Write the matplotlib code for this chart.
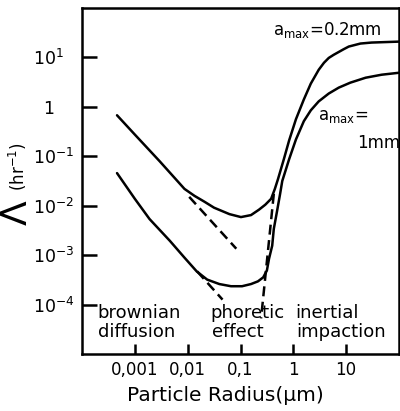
import numpy as np
import matplotlib
matplotlib.use("Agg")
import matplotlib.pyplot as plt
from matplotlib.ticker import FixedLocator, NullLocator

# curve for a_max = 0.2 mm (upper)
r_02 = [4.6e-4, 1.0e-3, 2.95e-3, 8.7e-3, 0.0135, 0.0209, 0.0316, 0.0617, 0.102,
        0.158, 0.224, 0.295, 0.380, 0.447, 0.513, 0.661, 0.832, 1.12, 1.58, 2.14,
        3.02, 3.8, 4.68, 5.8, 7.24, 8.9, 11.2, 18.6, 30.2, 100]
lam_02 = [0.676, 0.275, 0.0794, 0.0219, 0.0158, 0.0120, 0.00912, 0.00676, 0.00589,
          0.00646, 0.00832, 0.0105, 0.0138, 0.0219, 0.0347, 0.0871, 0.209, 0.562,
          1.41, 2.95, 5.62, 7.8, 9.77, 11.3, 12.9, 14.6, 16.6, 19.1, 20.0, 20.9]

# curve for a_max = 1 mm (lower)
r_1 = [4.6e-4, 1.0e-3, 1.9e-3, 4.6e-3, 8.7e-3, 0.0148, 0.0234, 0.0398, 0.0661, 0.107,
       0.158, 0.214, 0.269, 0.316, 0.347, 0.398, 0.427, 0.490, 0.562, 0.617, 0.832,
       1.12, 1.58, 2.14, 3.02, 4.68, 7.24, 12.0, 23.4, 46.8, 100]
lam_1 = [0.0457, 0.0138, 0.00537, 0.00195, 8.9e-4, 4.7e-4, 3.2e-4, 2.6e-4, 2.35e-4,
         2.35e-4, 2.6e-4, 2.95e-4, 3.55e-4, 4.9e-4, 8.5e-4, 1.55e-3, 3.4e-3, 7.6e-3,
         0.0174, 0.0316, 0.0871, 0.219, 0.513, 0.851, 1.29, 1.86, 2.45, 3.09, 3.89,
         4.47, 4.90]

# dashed asymptotes
dash_hi_r = [0.0107, 0.0832]
dash_hi_lam = [0.0151, 0.00135]
dash_lo_r = [0.0151, 0.0457]
dash_lo_lam = [4.7e-4, 1.26e-4]
dash_ph_r = [0.427, 0.245]
dash_ph_lam = [0.0174, 5.25e-5]

xticks = [1e-3, 1e-2, 1e-1, 1, 10]
xticklabels = ["0,001", "0,01", "0,1", "1", "10"]
yticks = [1e1, 1, 1e-1, 1e-2, 1e-3, 1e-4]
yticklabels = [r"$10^{1}$", "\u20071", r"$10^{-1}$", r"$10^{-2}$",
               r"$10^{-3}$", r"$10^{-4}$"]

lw = 1.8
fig = plt.figure(figsize=(4, 4.11), dpi=100)
ax = fig.add_axes([0.205, 0.1387, 0.7925, 0.8418])
ax.set_xscale("log")
ax.set_yscale("log")
ax.set_xlim(1e-4, 100)
ax.set_ylim(1e-5, 100)

ax.plot(r_02, lam_02, color="black", lw=lw, solid_capstyle="round", solid_joinstyle="round")
ax.plot(r_1, lam_1, color="black", lw=lw, solid_capstyle="round", solid_joinstyle="round")
for xs, ys in [(dash_hi_r, dash_hi_lam), (dash_lo_r, dash_lo_lam), (dash_ph_r, dash_ph_lam)]:
    ax.plot(xs, ys, color="black", lw=lw, linestyle=(0, (4, 2.2)))

for s in ax.spines.values():
    s.set_linewidth(lw)

ax.xaxis.set_major_locator(FixedLocator(xticks))
ax.xaxis.set_minor_locator(NullLocator())
ax.yaxis.set_major_locator(FixedLocator(yticks))
ax.yaxis.set_minor_locator(NullLocator())
ax.set_xticklabels(xticklabels)
ax.set_yticklabels(yticklabels)
ax.tick_params(axis="x", direction="in", length=7, width=lw, labelsize=12, pad=5)
ax.tick_params(axis="y", direction="in", length=10.5, width=lw, labelsize=12.5, pad=35)
for lab in ax.get_yticklabels():
    lab.set_horizontalalignment("left")

# regime labels
fs = 13
ax.text(0.050, 0.104, "brownian", transform=ax.transAxes, fontsize=fs, va="baseline")
ax.text(0.050, 0.049, "diffusion", transform=ax.transAxes, fontsize=fs, va="baseline")
ax.text(0.404, 0.104, "phoretic", transform=ax.transAxes, fontsize=fs, va="baseline")
ax.text(0.410, 0.049, "effect", transform=ax.transAxes, fontsize=fs, va="baseline")
ax.text(0.672, 0.104, "inertial", transform=ax.transAxes, fontsize=fs, va="baseline")
ax.text(0.675, 0.049, "impaction", transform=ax.transAxes, fontsize=fs, va="baseline")

# curve labels
ax.text(0.603, 0.922, r"a$_{\rm max}$=0.2mm", transform=ax.transAxes, fontsize=12, va="baseline")
ax.text(0.744, 0.676, r"a$_{\rm max}$=", transform=ax.transAxes, fontsize=12, va="baseline")
ax.text(0.868, 0.595, "1mm", transform=ax.transAxes, fontsize=12, va="baseline")

# axis titles
fig.text(0.5625, 0.024, "Particle Radius(\u03bcm)", fontsize=14.5, ha="center", va="baseline")
fig.text(0.042, 0.482, "\u039b", fontsize=26, rotation=90, ha="center", va="center")
fig.text(0.045, 0.594, r"(hr$^{-1}$)", fontsize=12, rotation=90, ha="center", va="center")

fig.savefig("out.png", dpi=100)
